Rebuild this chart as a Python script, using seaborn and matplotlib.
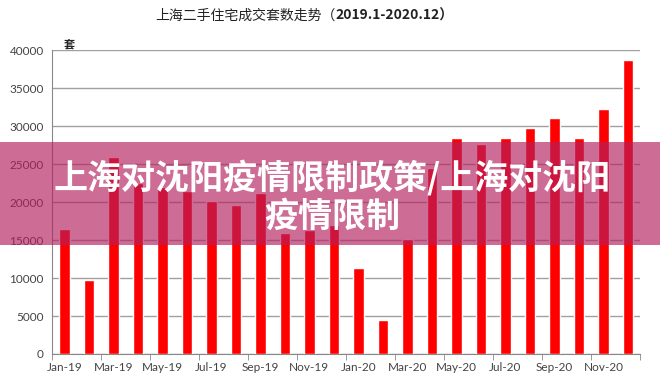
import matplotlib
matplotlib.use("Agg")
import matplotlib.pyplot as plt
from matplotlib.patches import Rectangle
import seaborn as sns
import pandas as pd

# monthly second-hand home sales in Shanghai (units)
months = ["Jan-19", "Feb-19", "Mar-19", "Apr-19", "May-19", "Jun-19",
          "Jul-19", "Aug-19", "Sep-19", "Oct-19", "Nov-19", "Dec-19",
          "Jan-20", "Feb-20", "Mar-20", "Apr-20", "May-20", "Jun-20",
          "Jul-20", "Aug-20", "Sep-20", "Oct-20", "Nov-20", "Dec-20"]
sales = [16400, 9700, 25900, 22500, 22000, 21500,
         20100, 19600, 21200, 15900, 16300, 17000,
         11300, 4500, 15100, 24500, 28500, 27700,
         28500, 29800, 31100, 28400, 32300, 38700]
yticks = [0, 5000, 10000, 15000, 20000, 25000, 30000, 35000, 40000]

title_cn = "上海二手住宅成交套数走势（"
title_dates = "2019.1-2020.12）"
banner = "上海对沈阳疫情限制政策/上海对沈阳\n疫情限制"

sns.set_style("white")
plt.rcParams['font.family'] = ['Noto Sans CJK SC', 'DejaVu Sans']

df = pd.DataFrame({"month": months, "sales": sales})

fig = plt.figure(figsize=(6.6, 3.89), dpi=100)
ax = fig.add_axes([0.079, 0.090, 0.891, 0.781])

sns.barplot(data=df, x="month", y="sales", color="#ff0000", width=0.42,
            saturation=1, ax=ax, zorder=3)

ax.set_ylim(0, 40000)
ax.set_xlim(-0.5, len(months) - 0.5)
ax.set_yticks(yticks)
ax.set_yticklabels([str(v) for v in yticks], fontsize=8.5, color="#444444",
                   family=['Lato', 'DejaVu Sans'])
ax.yaxis.grid(True, color="#a0a0a0", linewidth=1, zorder=0)
ax.tick_params(axis="y", length=4, color="#888888", pad=2)

# labels every second month, tick marks at category boundaries
ax.set_xticks(range(0, len(months), 2))
ax.set_xticklabels(months[::2], fontsize=8.5, color="#444444",
                   family=['Lato', 'DejaVu Sans'])
ax.set_xticks([i - 0.5 for i in range(0, len(months) + 1, 2)], minor=True)
ax.tick_params(axis="x", which="major", length=0, pad=6)
ax.tick_params(axis="x", which="minor", length=4, color="#888888",
               bottom=True)
ax.set_xlabel("")
ax.set_ylabel("")

for s in ["top", "right"]:
    ax.spines[s].set_visible(False)
for s in ["left", "bottom"]:
    ax.spines[s].set_color("#888888")

ax.text(0.02, 1.0, "套", transform=ax.transAxes, fontsize=8,
        fontweight="bold", ha="left", va="bottom")

# title: chinese part regular, date range bold
fig.text(0.508, 0.960, title_cn, fontsize=10, ha="right", va="center",
         color="#222222")
fig.text(0.508, 0.960, title_dates, fontsize=10, ha="left", va="center",
         color="#222222", fontweight="bold")

# pink overlay banner with headline
fig.patches.append(Rectangle((0, 0.370), 1, 0.265, transform=fig.transFigure,
                             facecolor=(178/255, 31/255, 93/255), alpha=0.65,
                             edgecolor="none", zorder=5))
fig.text(0.503, 0.495, banner, fontsize=24.5, fontweight="heavy",
         color="white", ha="center", va="center", linespacing=1.1, zorder=6)

fig.savefig("out.png", dpi=100)
